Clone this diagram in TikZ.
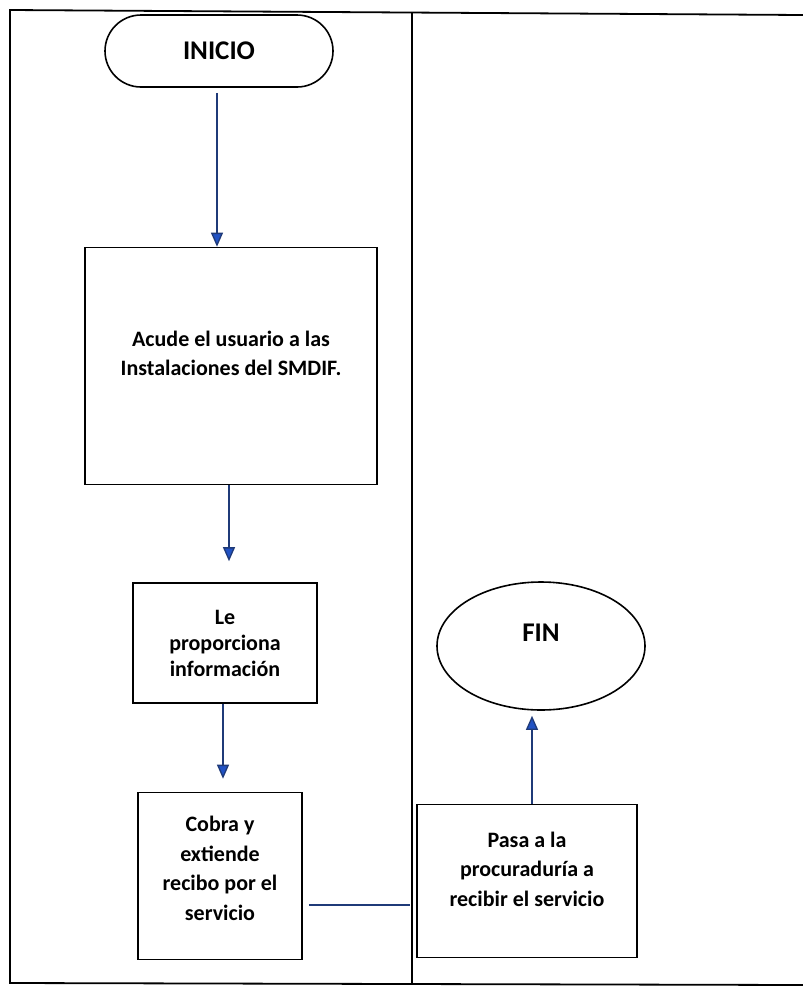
\documentclass[tikz,border=0pt]{standalone}
\usepackage{fontspec}
\setmainfont{Carlito}
\usepackage{tikz}
\usetikzlibrary{arrows.meta,shapes.geometric}

\definecolor{lineablue}{HTML}{1F3A78}
\definecolor{puntablue}{HTML}{2152C4}

% texto centrado y subido un poco dentro de la caja
\newcommand{\subir}[2]{\raisebox{#1}[\height][\depth]{\begin{tabular}{@{}c@{}}#2\end{tabular}}}

\begin{document}
\begin{tikzpicture}[
    x=1pt, y=-1pt,
    marco/.style={line width=1.8pt, black},
    inicio/.style={rectangle, rounded corners=36pt, draw, line width=1.6pt, minimum width=228pt, minimum height=72pt, font=\fontsize{27}{30}\selectfont\bfseries},
    fin/.style={ellipse, draw, line width=1.6pt, minimum width=208pt, minimum height=128pt, font=\fontsize{27}{30}\selectfont\bfseries},
    caja/.style={rectangle, draw, line width=1.6pt, align=center, font=\fontsize{22}{29.5}\selectfont\bfseries},
    flecha/.style={-{Triangle[length=14pt,width=12pt,fill=puntablue]}, lineablue, line width=1.3pt},
    linea/.style={lineablue, line width=1.3pt}
]
\useasboundingbox (0,0) rectangle (803,989);

% Marco y carriles
\draw[marco] (803,15) -- (10,10) -- (10,983) -- (803,985);
\draw[marco] (412,12) -- (412,984);

% Nodos principales
\node[inicio] (A) at (219,51) {INICIO};
\node[caja, minimum width=292pt, minimum height=237pt] (B) at (231,366)
    {\subir{11pt}{Acude el usuario a las\\Instalaciones del SMDIF.}};
\node[caja, minimum width=184pt, minimum height=120pt, font=\fontsize{22}{26}\selectfont\bfseries] (C) at (225,643)
    {Le\\proporciona\\información};
\node[caja, minimum width=164pt, minimum height=167pt] (D) at (220,876)
    {\subir{6pt}{Cobra y\\extiende\\recibo por el\\servicio}};
\node[caja, minimum width=220pt, minimum height=153pt] (E) at (527,881)
    {\subir{10pt}{Pasa a la\\procuraduría a\\recibir el servicio}};
\node[fin] (F) at (541,646) {\subir{11pt}{FIN}};

% Conexiones
\draw[flecha, shorten <=5pt] (A.south -| 217,0) -- (B.north -| 217,0);
\draw[flecha, shorten >=21pt] (B.south -| 229,0) -- (C.north -| 229,0);
\draw[flecha, shorten >=13pt] (C.south -| 223,0) -- (D.north -| 223,0);
\draw[linea, shorten <=6pt, shorten >=6pt] (D.east |- 0,905) -- (E.west |- 0,905);
\draw[flecha, shorten >=5pt] (E.north -| 532,0) -- (F.south -| 532,0);

\end{tikzpicture}
\end{document}
